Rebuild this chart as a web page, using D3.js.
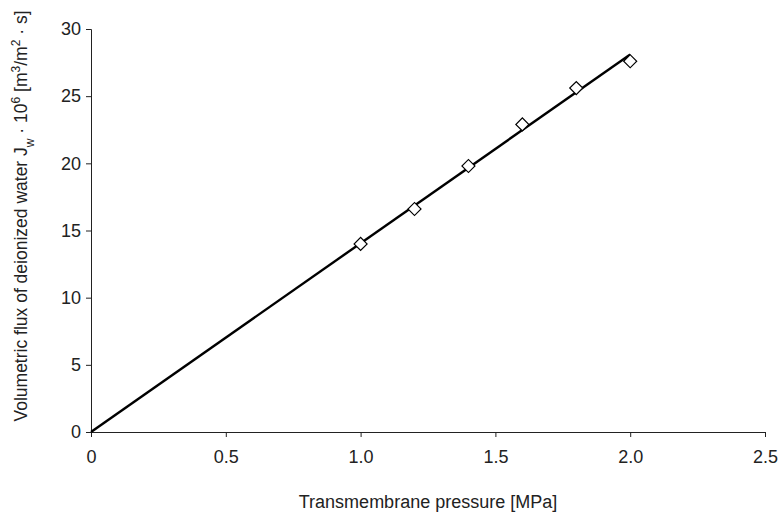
<!DOCTYPE html>
<html>
<head>
<meta charset="utf-8">
<script src="https://cdn.jsdelivr.net/npm/d3@7"></script>
<style>
  body { margin: 0; background: #fff; }
  text { font-family: "Liberation Sans", Arial, sans-serif; fill: #222; }
</style>
</head>
<body>
<div id="chart"></div>
<script>
const pressure = [1.0, 1.2, 1.4, 1.6, 1.8, 2.0];
const flux = [14.0, 16.6, 19.8, 22.9, 25.6, 27.6];
const fitLine = [[0, 0], [2.0, 28.1]];
const xTicks = [0, 0.5, 1.0, 1.5, 2.0, 2.5];
const yTicks = [0, 5, 10, 15, 20, 25, 30];

const width = 779, height = 512;
const margin = { left: 91, right: 14, top: 29, bottom: 80 };

const svg = d3.select("#chart").append("svg")
  .attr("width", width)
  .attr("height", height);

const x = d3.scaleLinear().domain([0, 2.5]).range([margin.left, width - margin.right]);
const y = d3.scaleLinear().domain([0, 30]).range([height - margin.bottom, margin.top]);

const xAxis = svg.append("g")
  .attr("transform", `translate(0,${y(0)})`)
  .call(d3.axisBottom(x).tickValues(xTicks).tickSizeOuter(0).tickSize(5).tickPadding(13)
    .tickFormat(d => d === 0 ? "0" : d3.format(".1f")(d)));

const yAxis = svg.append("g")
  .attr("transform", `translate(${x(0)},0)`)
  .call(d3.axisLeft(y).tickValues(yTicks).tickSizeOuter(0).tickSize(5).tickPadding(5));

[xAxis, yAxis].forEach(g => {
  g.selectAll("text").style("font-size", "18px").attr("fill", "#222")
    .style("font-family", "'Liberation Sans', Arial, sans-serif");
  g.selectAll("line, path").attr("stroke", "#222");
});

// fitted line
svg.append("path")
  .datum(fitLine)
  .attr("fill", "none")
  .attr("stroke", "#000")
  .attr("stroke-width", 2.4)
  .attr("d", d3.line().x(d => x(d[0])).y(d => y(d[1])));

// measured points
svg.append("g")
  .selectAll("path")
  .data(pressure.map((p, i) => [p, flux[i]]))
  .enter().append("path")
  .attr("transform", d => `translate(${x(d[0])},${y(d[1])}) rotate(45)`)
  .attr("d", "M-4.6,-4.6H4.6V4.6H-4.6Z")
  .attr("fill", "#fff")
  .attr("stroke", "#000")
  .attr("stroke-width", 1.2);

svg.append("text")
  .attr("x", (x(0) + x(2.5)) / 2)
  .attr("y", 508)
  .attr("text-anchor", "middle")
  .style("font-size", "18px")
  .text("Transmembrane pressure [MPa]");

const yl = svg.append("text")
  .attr("transform", "translate(27,216) rotate(-90)")
  .attr("text-anchor", "middle")
  .style("font-size", "17.5px");
yl.append("tspan").text("Volumetric flux of deionized water J");
yl.append("tspan").attr("baseline-shift", "sub").style("font-size", "12px").text("w");
yl.append("tspan").text(" · 10");
yl.append("tspan").attr("baseline-shift", "super").style("font-size", "12px").text("6");
yl.append("tspan").text(" [m");
yl.append("tspan").attr("baseline-shift", "super").style("font-size", "12px").text("3");
yl.append("tspan").text("/m");
yl.append("tspan").attr("baseline-shift", "super").style("font-size", "12px").text("2");
yl.append("tspan").text(" · s]");
</script>
</body>
</html>
